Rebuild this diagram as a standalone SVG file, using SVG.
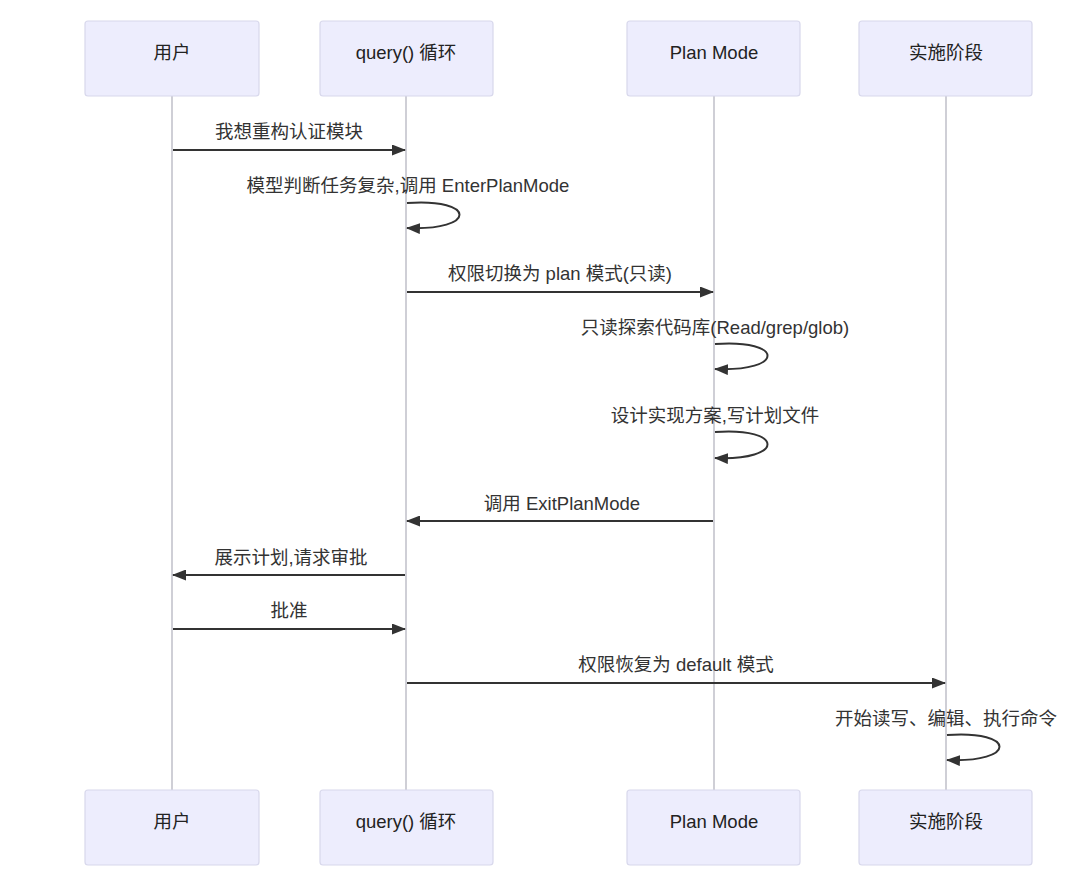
<svg xmlns="http://www.w3.org/2000/svg" width="1080" height="878" viewBox="0 0 1080 878">
<style>
.box{fill:#ededfd;stroke:#d8d8ec;stroke-width:1.2}
.life{stroke:#cfcfd6;stroke-width:2;fill:none}
.lbl{font-family:"Liberation Sans","Noto Sans CJK SC",sans-serif;font-size:18.5px;fill:#222;text-anchor:middle;dominant-baseline:central}
.msg{font-family:"Liberation Sans","Noto Sans CJK SC",sans-serif;font-size:18.5px;fill:#333;text-anchor:middle}
.arr{stroke:#333;stroke-width:2;fill:none;marker-end:url(#ah)}
</style>
<defs>
<marker id="ah" viewBox="0 0 14 11" refX="13" refY="5.5" markerWidth="14" markerHeight="11" markerUnits="userSpaceOnUse" orient="auto">
<path d="M0,0 L14,5.5 L0,11 z" fill="#333"/>
</marker>
</defs>
<rect width="1080" height="878" fill="#fff"/>
<g id="lifelines">
<line class="life" x1="172" y1="96" x2="172" y2="790"/>
<line class="life" x1="406" y1="96" x2="406" y2="790"/>
<line class="life" x1="714" y1="96" x2="714" y2="790"/>
<line class="life" x1="946" y1="96" x2="946" y2="790"/>
</g>
<g id="actor-user-top"><rect class="box" x="85" y="21" width="174" height="75" rx="3"/><text class="lbl" x="172" y="52">用户</text></g>
<g id="actor-query-top"><rect class="box" x="320" y="21" width="173" height="75" rx="3"/><text class="lbl" x="406" y="52">query() 循环</text></g>
<g id="actor-plan-top"><rect class="box" x="627" y="21" width="173" height="75" rx="3"/><text class="lbl" x="714" y="52">Plan Mode</text></g>
<g id="actor-impl-top"><rect class="box" x="859" y="21" width="173" height="75" rx="3"/><text class="lbl" x="946" y="52">实施阶段</text></g>
<g id="actor-user-bottom"><rect class="box" x="85" y="790" width="174" height="75" rx="3"/><text class="lbl" x="172" y="821">用户</text></g>
<g id="actor-query-bottom"><rect class="box" x="320" y="790" width="173" height="75" rx="3"/><text class="lbl" x="406" y="821">query() 循环</text></g>
<g id="actor-plan-bottom"><rect class="box" x="627" y="790" width="173" height="75" rx="3"/><text class="lbl" x="714" y="821">Plan Mode</text></g>
<g id="actor-impl-bottom"><rect class="box" x="859" y="790" width="173" height="75" rx="3"/><text class="lbl" x="946" y="821">实施阶段</text></g>
<g id="connectors">
<line class="arr" x1="173" y1="150" x2="405" y2="150"/>
<path class="arr" d="M407,203 C477,198 477,231 407,228"/>
<line class="arr" x1="407" y1="292" x2="713" y2="292"/>
<path class="arr" d="M715,344 C785,339 785,372 715,369"/>
<path class="arr" d="M715,432 C785,427 785,461 715,458"/>
<line class="arr" x1="713" y1="521" x2="407" y2="521"/>
<line class="arr" x1="405" y1="575" x2="173" y2="575"/>
<line class="arr" x1="173" y1="629" x2="405" y2="629"/>
<line class="arr" x1="407" y1="683" x2="945" y2="683"/>
<path class="arr" d="M947,735 C1017,730 1017,763 947,760"/>
</g>
<g id="labels">
<text class="msg" x="289" y="138">我想重构认证模块</text>
<text class="msg" x="408" y="192">模型判断任务复杂,调用 EnterPlanMode</text>
<text class="msg" x="560" y="280">权限切换为 plan 模式(只读)</text>
<text class="msg" x="715" y="334">只读探索代码库(Read/grep/glob)</text>
<text class="msg" x="715" y="422">设计实现方案,写计划文件</text>
<text class="msg" x="562" y="510">调用 ExitPlanMode</text>
<text class="msg" x="291" y="564">展示计划,请求审批</text>
<text class="msg" x="289" y="617">批准</text>
<text class="msg" x="676" y="671">权限恢复为 default 模式</text>
<text class="msg" x="946" y="725">开始读写、编辑、执行命令</text>
</g>
</svg>
